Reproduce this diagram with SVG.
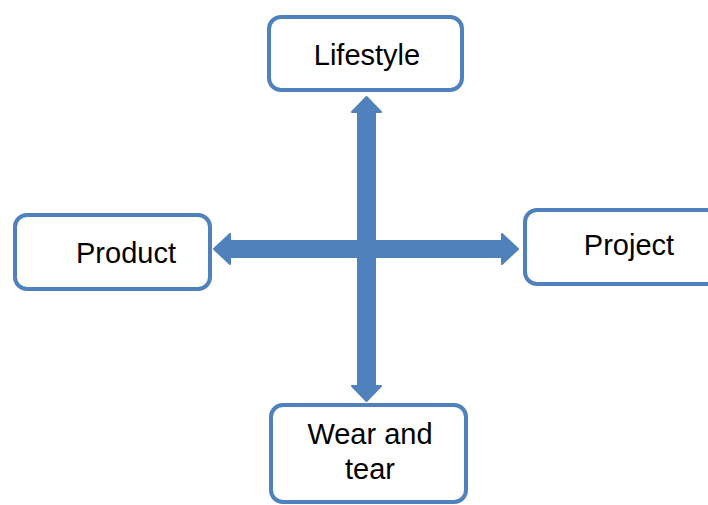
<svg xmlns="http://www.w3.org/2000/svg" width="708" height="505" viewBox="0 0 708 505">
  <style>
    .box { fill: #FFFFFF; stroke: #4F81BD; stroke-width: 4; }
    .arrow { fill: #4F81BD; stroke: #4F81BD; stroke-width: 2; stroke-linejoin: round; }
    .label { font-family: "Liberation Sans", Arial, sans-serif; font-size: 29px; fill: #000000; text-anchor: middle; }
  </style>
  <rect width="708" height="505" fill="#FFFFFF"/>
  <g id="connectors">
    <polygon class="arrow" points="214,249 230,234 230,241 502,241 502,234 518,249 502,264 502,257 230,257 230,264"/>
    <polygon class="arrow" points="366.5,97 381,112 375,112 375,386 381,386 366.5,401 352,386 358,386 358,112 352,112"/>
  </g>
  <g id="lifestyle">
    <rect class="box" x="269" y="17" width="193" height="73" rx="12"/>
    <text class="label" x="367" y="65">Lifestyle</text>
  </g>
  <g id="product">
    <rect class="box" x="15" y="215" width="195" height="74" rx="12"/>
    <text class="label" x="126" y="263">Product</text>
  </g>
  <g id="project">
    <rect class="box" x="525" y="210" width="200" height="74" rx="12"/>
    <text class="label" x="629" y="255">Project</text>
  </g>
  <g id="wear-and-tear">
    <rect class="box" x="271" y="405" width="195" height="97" rx="12"/>
    <text class="label" x="370" y="444">Wear and</text>
    <text class="label" x="370" y="479">tear</text>
  </g>
</svg>
